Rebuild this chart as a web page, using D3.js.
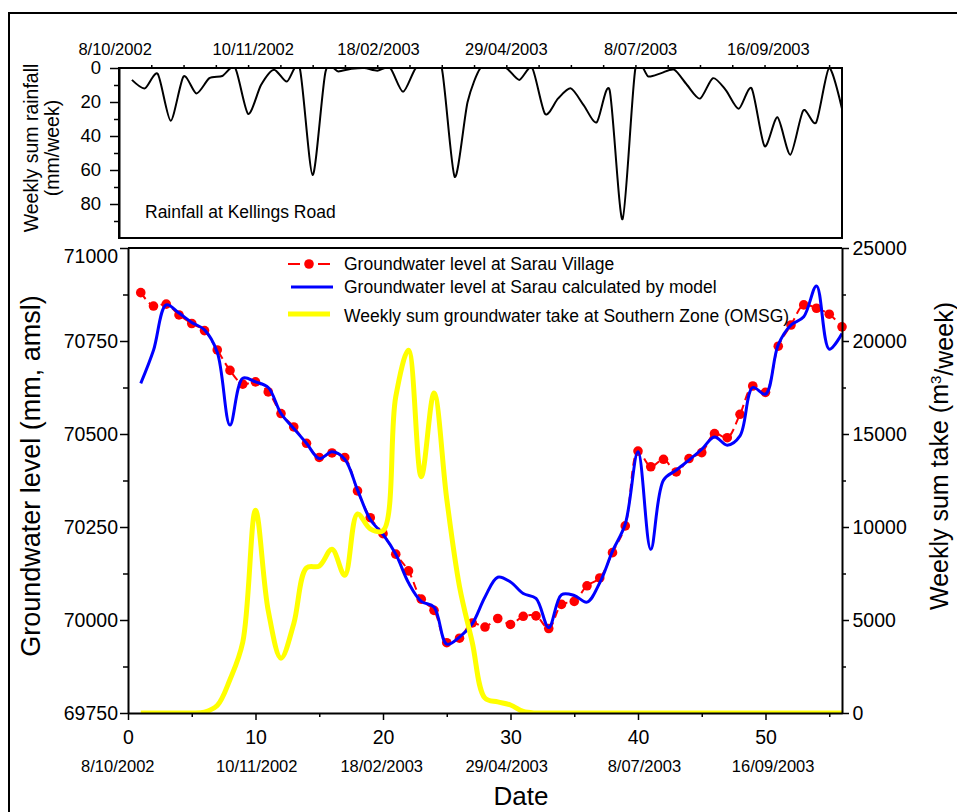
<!DOCTYPE html>
<html>
<head>
<meta charset="utf-8">
<script src="https://d3js.org/d3.v7.min.js"></script>
<style>
  body { margin: 0; background: #fff; }
  svg { font-family: Arial, "Liberation Sans", sans-serif; }
  .axis path, .axis line { stroke: #000; }
</style>
</head>
<body>
<svg id="chart" width="957" height="812"></svg>
<script>
// week number of each sample
var weeks = d3.range(1, 57);

// weekly rainfall at Kellings Road (mm/week)
var rainfall = [7, 12, 3.5, 31, 5, 15, 6, 4.7, 0, 27, 10, 1, 8, 0, 63, 2, 2, 0.5, 0, 1.6,
  0, 14, 0, 0, 0, 64, 20, 0, 0, 0, 7, 0, 27, 18, 12, 22, 32, 13, 89, 0,
  5, 3, 1, 10, 18, 6, 13, 24, 12, 46, 29, 51, 25, 32, 0, 24];

// groundwater level at Sarau Village, observed (mm amsl)
var levelObserved = [70880, 70844, 70849, 70820, 70797, 70778, 70726, 70671, 70634, 70640,
  70613, 70555, 70519, 70475, 70437, 70449, 70437, 70347, 70275, 70232,
  70177, 70132, 70056, 70026, 69939, 69951, 69992, 69981, 70004, 69988,
  70010, 70011, 69977, 70042, 70050, 70092, 70113, 70181, 70253, 70454,
  70412, 70432, 70398, 70434, 70450, 70501, 70490, 70553, 70629, 70612,
  70736, 70793, 70847, 70838, 70822, 70788];

// groundwater level at Sarau calculated by model (mm amsl)
var levelModel = [70636, 70725, 70847, 70825, 70800, 70780, 70720, 70524, 70650, 70640,
  70625, 70555, 70515, 70475, 70434, 70452, 70432, 70350, 70270, 70230,
  70177, 70100, 70050, 70035, 69935, 69954, 69990, 70062, 70115, 70102,
  70071, 70058, 69980, 70068, 70066, 70048, 70100, 70185, 70258, 70452,
  70190, 70376, 70403, 70430, 70459, 70492, 70470, 70495, 70625, 70607,
  70740, 70793, 70815, 70898, 70728, 70770];

// weekly groundwater take, Southern Zone (m3/week)
var takeSouth = [0, 0, 0, 0, 0, 50, 400, 1800, 3800, 10900,
  5500, 2950, 4800, 7800, 7900, 8800, 7400, 10700, 9900, 9800,
  17000, 19500, 12700, 17200, 11500, 6800, 3800, 800, 600, 430,
  80, 0, 0, 0, 0, 0, 0, 0, 0, 0,
  0, 0, 0, 0, 0, 0, 0, 0, 0, 0,
  0, 0, 0, 0, 0, 0];

var dateLabels = ["8/10/2002", "10/11/2002", "18/02/2003", "29/04/2003", "8/07/2003", "16/09/2003"];
var topDateWeeks = [-0.3, 10.4, 20.1, 30, 40.4, 50.3];
var bottomDateWeeks = [-0.8, 10.1, 19.9, 29.7, 40.5, 50.6];

var legendLabels = ["Groundwater level at Sarau Village",
  "Groundwater level at Sarau calculated by model",
  "Weekly sum groundwater take at Southern Zone (OMSG)"];

var svg = d3.select("#chart");

// outer frame
svg.append("path")
  .attr("d", "M9,812V13H957")
  .attr("fill", "none").attr("stroke", "#000").attr("stroke-width", 2);

// ---------- rainfall panel ----------
var xTop = d3.scaleLinear().domain([0, 56]).range([119, 842]);
var yRain = d3.scaleLinear().domain([0, 100]).range([68, 238]);

svg.append("clipPath").attr("id", "clipTop")
  .append("rect")
  .attr("x", xTop(0)).attr("y", yRain(0))
  .attr("width", xTop(56) - xTop(0)).attr("height", yRain(100) - yRain(0));

var rainLine = d3.line()
  .x(function (d, i) { return xTop(weeks[i]); })
  .y(function (d) { return yRain(d); })
  .curve(d3.curveCardinal.tension(0.25));

svg.append("path")
  .datum(rainfall)
  .attr("clip-path", "url(#clipTop)")
  .attr("d", rainLine)
  .attr("fill", "none").attr("stroke", "#000").attr("stroke-width", 2);

svg.append("rect")
  .attr("x", xTop(0)).attr("y", yRain(0))
  .attr("width", xTop(56) - xTop(0)).attr("height", yRain(100) - yRain(0))
  .attr("fill", "none").attr("stroke", "#000").attr("stroke-width", 2);

var gRainAxis = svg.append("g").attr("class", "axis")
  .attr("transform", "translate(" + xTop(0) + ",0)")
  .call(d3.axisLeft(yRain).tickValues([0, 20, 40, 60, 80]).tickSize(9).tickPadding(9).tickSizeOuter(0));
gRainAxis.selectAll("text").style("font-size", "18.5px").attr("fill", "#000");
gRainAxis.select(".domain").attr("stroke-width", 2);
gRainAxis.selectAll("line").attr("stroke-width", 1.5);

svg.append("g").attr("class", "axis")
  .attr("transform", "translate(" + xTop(0) + ",0)")
  .call(d3.axisLeft(yRain).tickValues([10, 30, 50, 70, 90]).tickSize(5).tickFormat("").tickSizeOuter(0))
  .call(function (g) { g.select(".domain").remove(); g.selectAll("line").attr("stroke-width", 1.5); });

svg.append("g").attr("class", "axis")
  .attr("transform", "translate(0," + yRain(0) + ")")
  .call(d3.axisTop(xTop).tickValues(d3.range(2.5, 56, 2.5)).tickSize(3).tickFormat("").tickSizeOuter(0))
  .call(function (g) { g.select(".domain").remove(); g.selectAll("line").attr("stroke-width", 1.5); });

svg.append("g").selectAll("text")
  .data(dateLabels).enter().append("text")
  .attr("x", function (d, i) { return xTop(topDateWeeks[i]); })
  .attr("y", 55)
  .attr("text-anchor", "middle")
  .style("font-size", "16.5px")
  .text(function (d) { return d; });

svg.append("text")
  .attr("x", 145).attr("y", 218)
  .style("font-size", "17.5px")
  .text("Rainfall at Kellings Road");

svg.append("text")
  .attr("transform", "translate(38,148) rotate(-90)")
  .attr("text-anchor", "middle")
  .style("font-size", "19.5px")
  .text("Weekly sum rainfall");
svg.append("text")
  .attr("transform", "translate(59,148) rotate(-90)")
  .attr("text-anchor", "middle")
  .style("font-size", "19.5px")
  .text("(mm/week)");

// ---------- groundwater panel ----------
var x = d3.scaleLinear().domain([0, 56]).range([128, 842]);
var yLevel = d3.scaleLinear().domain([69750, 71000]).range([713, 248]);
var yTake = d3.scaleLinear().domain([0, 25000]).range([713, 248]);

svg.append("clipPath").attr("id", "clipMain")
  .append("rect")
  .attr("x", x(0)).attr("y", yLevel(71000))
  .attr("width", x(56) - x(0)).attr("height", yLevel(69750) - yLevel(71000));

// top border of main panel
svg.append("line")
  .attr("x1", x(0)).attr("x2", x(56))
  .attr("y1", yLevel(71000)).attr("y2", yLevel(71000))
  .attr("stroke", "#000").attr("stroke-width", 2);

var smooth = d3.curveCatmullRom.alpha(0.5);

var levelLine = d3.line()
  .x(function (d, i) { return x(weeks[i]); })
  .y(function (d) { return yLevel(d); })
  .curve(smooth);

svg.append("path")
  .datum(levelObserved)
  .attr("d", levelLine)
  .attr("fill", "none").attr("stroke", "#ff0000").attr("stroke-width", 2)
  .attr("stroke-dasharray", "8,5");

svg.append("g").selectAll("circle")
  .data(levelObserved).enter().append("circle")
  .attr("cx", function (d, i) { return x(weeks[i]); })
  .attr("cy", function (d) { return yLevel(d); })
  .attr("r", 4.8)
  .attr("fill", "#ff0000");

svg.append("path")
  .datum(levelModel)
  .attr("clip-path", "url(#clipMain)")
  .attr("d", levelLine)
  .attr("fill", "none").attr("stroke", "#0000ff").attr("stroke-width", 3);

var takeLine = d3.line()
  .x(function (d, i) { return x(weeks[i]); })
  .y(function (d) { return yTake(d); })
  .curve(smooth);

svg.append("path")
  .datum(takeSouth)
  .attr("clip-path", "url(#clipMain)")
  .attr("d", takeLine)
  .attr("fill", "none").attr("stroke", "#ffff00").attr("stroke-width", 5);

// axes
function styleAxis(g, size) {
  g.select(".domain").attr("stroke-width", 2);
  g.selectAll("line").attr("stroke-width", 1.5);
  g.selectAll("text").style("font-size", size).attr("fill", "#000");
}

var gLeft = svg.append("g").attr("class", "axis")
  .attr("transform", "translate(" + x(0) + ",0)")
  .call(d3.axisLeft(yLevel).tickValues([69750, 70000, 70250, 70500, 70750, 71000])
    .tickFormat(d3.format("d")).tickSize(8).tickPadding(2).tickSizeOuter(0));
styleAxis(gLeft, "19.5px");
gLeft.selectAll("text").filter(function (d) { return d === 71000; }).attr("dy", "0.75em");

svg.append("g").attr("class", "axis")
  .attr("transform", "translate(" + x(0) + ",0)")
  .call(d3.axisLeft(yLevel).tickValues([69875, 70125, 70375, 70625, 70875]).tickSize(5).tickFormat("").tickSizeOuter(0))
  .call(function (g) { g.select(".domain").remove(); g.selectAll("line").attr("stroke-width", 1.5); });

var gRight = svg.append("g").attr("class", "axis")
  .attr("transform", "translate(" + x(56) + ",0)")
  .call(d3.axisRight(yTake).tickValues([0, 5000, 10000, 15000, 20000, 25000])
    .tickFormat(d3.format("d")).tickSize(7).tickPadding(3.5).tickSizeOuter(0));
styleAxis(gRight, "19.5px");

svg.append("g").attr("class", "axis")
  .attr("transform", "translate(" + x(56) + ",0)")
  .call(d3.axisRight(yTake).tickValues([2500, 7500, 12500, 17500, 22500]).tickSize(4).tickFormat("").tickSizeOuter(0))
  .call(function (g) { g.select(".domain").remove(); g.selectAll("line").attr("stroke-width", 1.5); });

var gBottom = svg.append("g").attr("class", "axis")
  .attr("transform", "translate(0," + yLevel(69750) + ")")
  .call(d3.axisBottom(x).tickValues([0, 10, 20, 30, 40, 50]).tickSize(7).tickPadding(10).tickSizeOuter(0));
styleAxis(gBottom, "19.5px");

svg.append("g").attr("class", "axis")
  .attr("transform", "translate(0," + yLevel(69750) + ")")
  .call(d3.axisBottom(x).tickValues([5, 15, 25, 35, 45, 55]).tickSize(4).tickFormat("").tickSizeOuter(0))
  .call(function (g) { g.select(".domain").remove(); g.selectAll("line").attr("stroke-width", 1.5); });

svg.append("g").selectAll("text")
  .data(dateLabels).enter().append("text")
  .attr("x", function (d, i) { return x(bottomDateWeeks[i]); })
  .attr("y", 772)
  .attr("text-anchor", "middle")
  .style("font-size", "16.5px")
  .text(function (d) { return d; });

svg.append("text")
  .attr("x", 521).attr("y", 805)
  .attr("text-anchor", "middle")
  .style("font-size", "26px")
  .text("Date");

svg.append("text")
  .attr("transform", "translate(40,476) rotate(-90)")
  .attr("text-anchor", "middle")
  .style("font-size", "27px")
  .text("Groundwater level (mm, amsl)");

var rightTitle = svg.append("text")
  .attr("transform", "translate(948,456) rotate(-90)")
  .attr("text-anchor", "middle")
  .style("font-size", "25px");
rightTitle.append("tspan").text("Weekly sum take (m");
rightTitle.append("tspan").attr("dy", "-0.45em").style("font-size", "15px").text("3");
rightTitle.append("tspan").attr("dy", "0.45em").text("/week)");

// legend
var legend = svg.append("g");
var legendRowY = [264, 287, 314];
var legendTextY = [270, 293, 322];

legend.append("line")
  .attr("x1", 288).attr("x2", 330).attr("y1", legendRowY[0]).attr("y2", legendRowY[0])
  .attr("stroke", "#ff0000").attr("stroke-width", 2).attr("stroke-dasharray", "12,6,6,6,12");
legend.append("circle")
  .attr("cx", 309).attr("cy", legendRowY[0]).attr("r", 4.8).attr("fill", "#ff0000");
legend.append("line")
  .attr("x1", 291).attr("x2", 333).attr("y1", legendRowY[1]).attr("y2", legendRowY[1])
  .attr("stroke", "#0000ff").attr("stroke-width", 3);
legend.append("line")
  .attr("x1", 288).attr("x2", 330).attr("y1", legendRowY[2]).attr("y2", legendRowY[2])
  .attr("stroke", "#ffff00").attr("stroke-width", 5);

legend.selectAll("text")
  .data(legendLabels).enter().append("text")
  .attr("x", 344)
  .attr("y", function (d, i) { return legendTextY[i]; })
  .style("font-size", "17.5px")
  .text(function (d) { return d; });
</script>
</body>
</html>
